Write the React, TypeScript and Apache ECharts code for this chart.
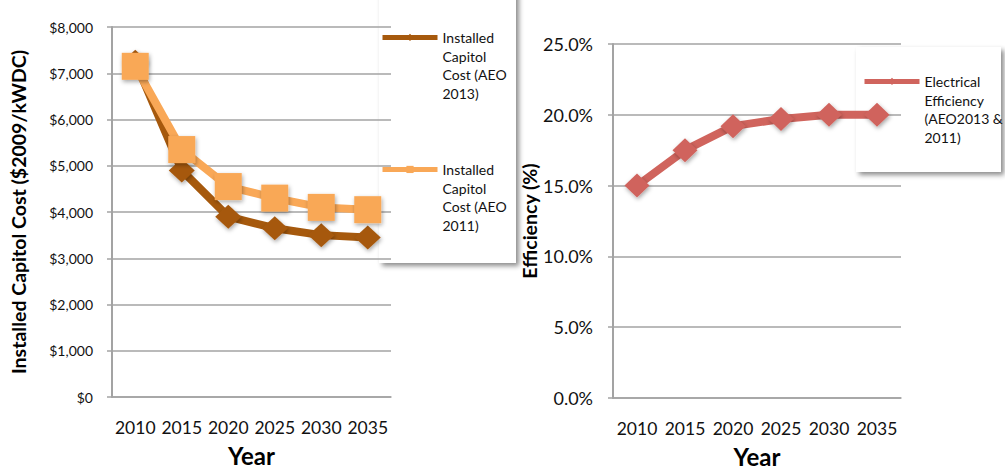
import React, { useEffect, useRef } from "react";
import * as echarts from "echarts";

// Projection years shared by both panels
const years = ["2010", "2015", "2020", "2025", "2030", "2035"];

// Installed capital cost, $2009 per kW DC
const costAeo2013 = [7250, 4900, 3900, 3650, 3500, 3450];
const costAeo2011 = [7150, 5350, 4550, 4300, 4100, 4050];

// Electrical efficiency, percent
const efficiency = [15.0, 17.5, 19.2, 19.7, 20.0, 20.0];

// Value axis ranges
const costTicks = { min: 0, max: 8000, interval: 1000 };
const effTicks = { min: 0, max: 25, interval: 5 };

const seriesNames = {
  aeo2013: "Installed\nCapitol\nCost (AEO\n2013)",
  aeo2011: "Installed\nCapitol\nCost (AEO\n2011)",
  eff: "Electrical\nEfficiency\n(AEO2013 &\n2011)",
};

const FONT = "Lato, 'Open Sans', sans-serif";
const GRID_GRAY = "#a3a3a3";
const DARK = "#a6590d";
const LIGHT = "#f9a857";
const RED = "#d0645d";

const markerShadow = {
  shadowBlur: 4,
  shadowColor: "rgba(0,0,0,0.35)",
  shadowOffsetX: 1,
  shadowOffsetY: 2,
};

// Legend entries keep the marker beside the first text line: three blank
// lines ahead of the name put that line at the vertical centre of the block.
function legendFor(name: string, left: number, top: number) {
  return {
    show: true,
    data: [name],
    orient: "vertical",
    left,
    top,
    padding: 0,
    itemWidth: 55,
    itemHeight: 9,
    selectedMode: false,
    lineStyle: { width: 5 },
    formatter: (n: string) => "\n\n\n" + n,
    textStyle: {
      fontFamily: FONT,
      fontSize: 14,
      color: "#111",
      lineHeight: 18.7,
    },
  };
}

export default function App() {
  const ref = useRef<HTMLDivElement>(null);

  useEffect(() => {
    if (!ref.current) return;
    const chart = echarts.init(ref.current, undefined, { renderer: "svg" });

    const yAxisCommon = {
      type: "value",
      nameLocation: "middle",
      nameRotate: 90,
      nameTextStyle: {
        fontFamily: FONT,
        fontWeight: "bold",
        fontSize: 19.5,
        color: "#000",
      },
      axisLine: { show: true, lineStyle: { color: GRID_GRAY, width: 2 } },
      axisTick: { show: true, length: 5, lineStyle: { color: GRID_GRAY, width: 1.5 } },
      splitLine: { show: true, lineStyle: { color: GRID_GRAY, width: 1.5 } },
    };

    const xAxisCommon = {
      type: "category",
      data: years,
      boundaryGap: true,
      name: "Year",
      nameLocation: "middle",
      nameGap: 46,
      nameTextStyle: {
        fontFamily: FONT,
        fontWeight: "bold",
        fontSize: 24,
        color: "#000",
      },
      axisLine: { show: true, lineStyle: { color: GRID_GRAY, width: 1.5 } },
      axisTick: { show: false },
      axisLabel: {
        fontFamily: FONT,
        fontSize: 17.5,
        color: "#111",
        margin: 21,
        interval: 0,
      },
      splitLine: { show: false },
    };

    chart.setOption({
      animation: false,
      backgroundColor: "#fff",
      grid: [
        { left: 112, top: 27, width: 279, height: 370, outerBoundsMode: "none" },
        { left: 613, top: 44, width: 288, height: 354, outerBoundsMode: "none" },
      ],
      xAxis: [
        { ...xAxisCommon, gridIndex: 0 },
        { ...xAxisCommon, gridIndex: 1 },
      ],
      yAxis: [
        {
          ...yAxisCommon,
          gridIndex: 0,
          ...costTicks,
          name: "Installed Capitol Cost ($2009/kWDC)",
          nameGap: 84,
          axisLabel: {
            fontFamily: FONT,
            fontSize: 14,
            color: "#111",
            margin: 19,
            formatter: (v: number) => "$" + v.toLocaleString("en-US"),
          },
        },
        {
          ...yAxisCommon,
          gridIndex: 1,
          ...effTicks,
          name: "Efficiency (%)",
          nameGap: 70,
          axisLabel: {
            fontFamily: FONT,
            fontSize: 18,
            color: "#111",
            margin: 20,
            formatter: (v: number) => v.toFixed(1) + "%",
          },
        },
      ],
      legend: [
        legendFor(seriesNames.aeo2013, 380, -28),
        legendFor(seriesNames.aeo2011, 380, 104),
        legendFor(seriesNames.eff, 862, 16),
      ],
      graphic: [
        {
          type: "rect",
          z: -10,
          shape: { x: 379, y: -10, width: 137, height: 273 },
          style: {
            fill: "#fff",
            shadowBlur: 5,
            shadowColor: "rgba(0,0,0,0.45)",
            shadowOffsetX: 3,
            shadowOffsetY: 3,
          },
        },
        {
          type: "rect",
          z: -10,
          shape: { x: 856, y: 47, width: 145, height: 125 },
          style: {
            fill: "#fff",
            shadowBlur: 5,
            shadowColor: "rgba(0,0,0,0.45)",
            shadowOffsetX: 3,
            shadowOffsetY: 3,
          },
        },
      ],
      series: [
        {
          name: seriesNames.aeo2013,
          type: "line",
          xAxisIndex: 0,
          yAxisIndex: 0,
          data: costAeo2013,
          symbol: "diamond",
          symbolSize: [26, 24],
          lineStyle: { color: DARK, width: 8 },
          itemStyle: { color: DARK, ...markerShadow },
        },
        {
          name: seriesNames.aeo2011,
          type: "line",
          xAxisIndex: 0,
          yAxisIndex: 0,
          data: costAeo2011,
          symbol: "rect",
          symbolSize: 27,
          lineStyle: { color: LIGHT, width: 8 },
          itemStyle: { color: LIGHT, ...markerShadow },
        },
        {
          name: seriesNames.eff,
          type: "line",
          xAxisIndex: 1,
          yAxisIndex: 1,
          data: efficiency,
          symbol: "diamond",
          symbolSize: [25, 24],
          lineStyle: { color: RED, width: 8 },
          itemStyle: { color: RED, ...markerShadow },
        },
      ],
    });

    return () => chart.dispose();
  }, []);

  return (
    <div
      ref={ref}
      style={{ position: "fixed", left: 0, top: 0, width: 1005, height: 469 }}
    />
  );
}
